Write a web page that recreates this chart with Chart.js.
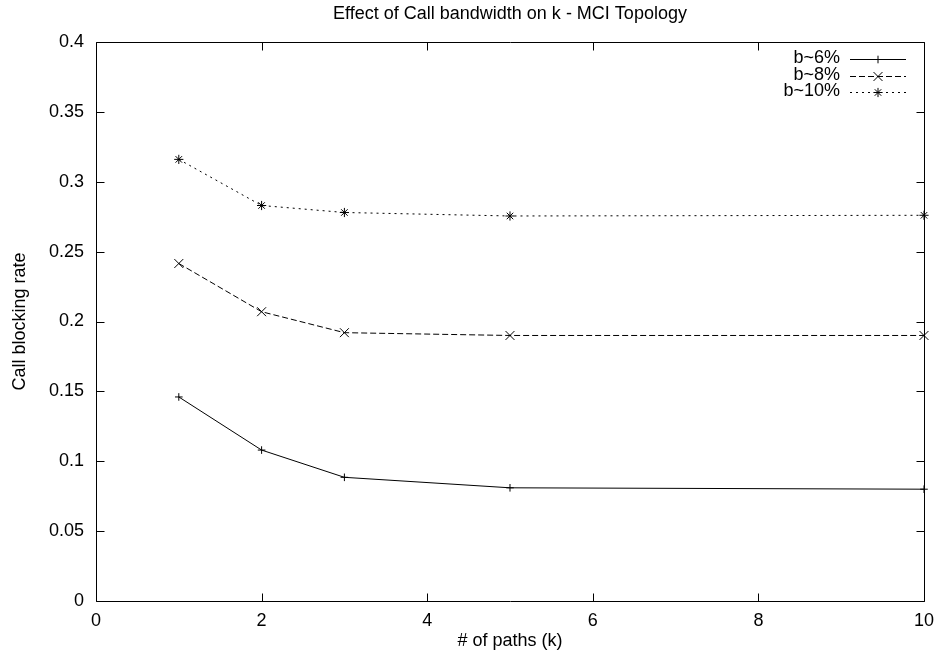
<!DOCTYPE html>
<html>
<head>
<meta charset="utf-8">
<script src="https://cdn.jsdelivr.net/npm/chart.js@4.4.0/dist/chart.umd.min.js"></script>
<style>
  html, body { margin: 0; padding: 0; background: #fff; }
  #wrap { width: 943px; height: 661px; }
</style>
</head>
<body>
<div id="wrap"><canvas id="myChart" width="943" height="661"></canvas></div>
<script>
// data
const paths = [1, 2, 3, 5, 10];
const b6 = [0.146, 0.108, 0.0885, 0.081, 0.080];
const b8 = [0.2415, 0.207, 0.192, 0.190, 0.190];
const b10 = [0.316, 0.283, 0.278, 0.2755, 0.276];
const seriesNames = ["b~6%", "b~8%", "b~10%"];
const xTicks = [0, 2, 4, 6, 8, 10];
const yTicks = [0, 0.05, 0.1, 0.15, 0.2, 0.25, 0.3, 0.35, 0.4];
const titleText = "Effect of Call bandwidth on k - MCI Topology";

const FONT = "'Liberation Sans', Arial, sans-serif";

function pts(vals) {
  return vals.map((v, i) => ({ x: paths[i], y: v }));
}

function series(label, vals, style, r, dash) {
  return {
    label: label,
    data: pts(vals),
    borderColor: "#000",
    borderWidth: 1,
    borderDash: dash,
    pointStyle: style,
    pointRadius: r,
    pointBorderColor: "#000",
    pointBackgroundColor: "rgba(0,0,0,0)",
    pointBorderWidth: 1,
    tension: 0,
    clip: false
  };
}

// gnuplot style box with inward ticks, title over the plot, key on the right
const frameTicks = {
  id: "frameTicks",
  afterDatasetsDraw(chart) {
    const { ctx, chartArea: a, scales: { x, y } } = chart;
    ctx.save();
    ctx.strokeStyle = "#000";
    ctx.lineWidth = 1;
    const L = Math.round(a.left) + 0.5, R = Math.round(a.right) + 0.5;
    const T = Math.round(a.top) + 0.5, B = Math.round(a.bottom) + 0.5;
    ctx.beginPath();
    xTicks.forEach(v => {
      const px = Math.round(x.getPixelForValue(v)) + 0.5;
      ctx.moveTo(px, B); ctx.lineTo(px, B - 8);
      ctx.moveTo(px, T); ctx.lineTo(px, T + 8);
    });
    yTicks.forEach(v => {
      const py = Math.round(y.getPixelForValue(v)) + 0.5;
      ctx.moveTo(L, py); ctx.lineTo(L + 8, py);
      ctx.moveTo(R, py); ctx.lineTo(R - 8, py);
    });
    ctx.rect(L, T, R - L, B - T);
    ctx.stroke();

    ctx.font = "18px " + FONT;
    ctx.fillStyle = "#000";
    ctx.textBaseline = "middle";

    // title, centred on the plot area
    ctx.textAlign = "center";
    ctx.fillText(titleText, (a.left + a.right) / 2, 14);

    // key
    ctx.textAlign = "right";
    chart.data.datasets.forEach((ds, i) => {
      const ry = 58 + i * 16.7;
      ctx.fillText(seriesNames[i], 840, ry);
      const ly = Math.round(ry + 1) + 0.5;
      ctx.setLineDash(ds.borderDash);
      ctx.beginPath();
      ctx.moveTo(850, ly); ctx.lineTo(906, ly);
      ctx.stroke();
      ctx.setLineDash([]);
      Chart.helpers.drawPoint(ctx, {
        pointStyle: ds.pointStyle, radius: ds.pointRadius, borderWidth: 1, rotation: 0
      }, 878, ly);
    });
    ctx.restore();
  }
};

const ctx = document.getElementById("myChart").getContext("2d");
new Chart(ctx, {
  type: "line",
  data: {
    datasets: [
      series(seriesNames[0], b6, "cross", 3.8, []),
      series(seriesNames[1], b8, "crossRot", 6.3, [6, 3]),
      series(seriesNames[2], b10, "star", 4.6, [2, 4])
    ]
  },
  options: {
    responsive: false,
    animation: false,
    layout: { padding: { left: 0, right: 13, top: 42, bottom: 0 } },
    plugins: {
      legend: { display: false },
      tooltip: { enabled: false },
      title: { display: false }
    },
    scales: {
      x: {
        type: "linear",
        min: 0,
        max: 10,
        afterBuildTicks: s => { s.ticks = xTicks.map(v => ({ value: v })); },
        afterFit: s => { s.height = 60; },
        grid: { display: false, drawTicks: false },
        border: { display: false },
        ticks: {
          color: "#000",
          padding: 9,
          font: { family: FONT, size: 18 },
          callback: v => String(v)
        },
        title: {
          display: true,
          text: "# of paths (k)",
          color: "#000",
          font: { family: FONT, size: 18 },
          padding: { top: 0, bottom: 9 }
        }
      },
      y: {
        type: "linear",
        min: 0,
        max: 0.4,
        afterBuildTicks: s => { s.ticks = yTicks.map(v => ({ value: v })); },
        afterFit: s => { s.width = 96; },
        grid: { display: false, drawTicks: false },
        border: { display: false },
        ticks: {
          color: "#000",
          padding: 12,
          font: { family: FONT, size: 18 },
          callback: v => String(Number(v.toFixed(2)))
        },
        title: {
          display: true,
          text: "Call blocking rate",
          color: "#000",
          font: { family: FONT, size: 18 },
          padding: { top: 9, bottom: 0 }
        }
      }
    }
  },
  plugins: [frameTicks]
});
</script>
</body>
</html>
